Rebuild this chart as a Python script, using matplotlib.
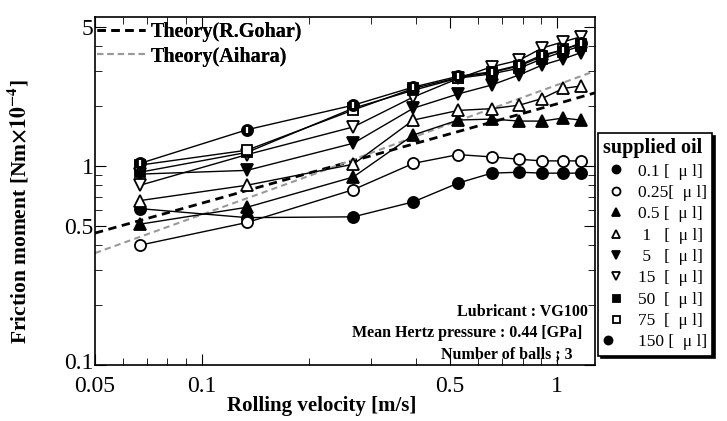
import matplotlib
matplotlib.use('Agg')
import matplotlib.pyplot as plt
import matplotlib.transforms as mtransforms
from matplotlib.lines import Line2D
from matplotlib.legend_handler import HandlerTuple
from matplotlib.ticker import FixedLocator, NullFormatter, LogLocator

plt.rcParams['font.family'] = ['Liberation Serif', 'DejaVu Serif']
plt.rcParams['mathtext.fontset'] = 'stix'

# Rolling velocity of the measured points [m/s]
velocity = [0.067, 0.134, 0.267, 0.394, 0.527, 0.655, 0.784, 0.908, 1.04, 1.166]

# Friction moment [Nm x 10^-4] for each supplied oil amount
oil_0_1 = [0.61, 0.55, 0.555, 0.66, 0.82, 0.92, 0.93, 0.92, 0.92, 0.92]
oil_0_25 = [0.40, 0.52, 0.76, 1.03, 1.14, 1.11, 1.08, 1.06, 1.06, 1.06]
oil_0_5 = [0.51, 0.62, 0.88, 1.43, 1.70, 1.72, 1.68, 1.68, 1.74, 1.70]
oil_1 = [0.67, 0.80, 1.02, 1.70, 1.90, 1.94, 2.02, 2.18, 2.45, 2.52]
oil_5 = [0.91, 0.95, 1.30, 1.95, 2.30, 2.55, 2.87, 3.21, 3.45, 3.70]
oil_15 = [0.80, 1.14, 1.57, 2.22, 2.75, 3.15, 3.40, 3.91, 4.20, 4.45]
oil_50 = [0.93, 1.17, 1.95, 2.40, 2.76, 2.90, 3.10, 3.45, 3.75, 4.00]
oil_75 = [1.01, 1.20, 1.91, 2.45, 2.78, 2.95, 3.18, 3.55, 3.85, 4.10]
oil_150 = [1.03, 1.52, 2.02, 2.49, 2.82, 2.97, 3.21, 3.61, 3.82, 4.15]

oil_labels = ['0.1 [  \u03bc l]', '0.25[  \u03bc l]', '0.5 [  \u03bc l]', ' 1   [  \u03bc l]',
              ' 5   [  \u03bc l]', '15  [  \u03bc l]', '50  [  \u03bc l]', '75  [  \u03bc l]',
              '150 [  \u03bc l]']

# Theory curves
gohar_v = [0.05, 0.1, 0.2, 0.5, 1.0, 1.28]
gohar_m = [0.46, 0.65, 0.92, 1.45, 2.05, 2.33]
aihara_v = [0.05, 0.1, 0.2, 0.5, 1.0, 1.28]
aihara_m = [0.365, 0.57, 0.89, 1.63, 2.55, 3.0]

series = [oil_0_1, oil_0_25, oil_0_5, oil_1, oil_5, oil_15, oil_50, oil_75, oil_150]
markers = ['o', 'o', '^', '^', 'v', 'v', 's', 's', 'o']
fills = ['k', 'w', 'k', 'w', 'k', 'w', 'k', 'w', 'k']

fig = plt.figure(figsize=(7.27, 4.21), dpi=100)
ax = fig.add_axes([95 / 727, 1 - 365 / 421, 500 / 727, 348 / 421])

proxies = []
for vals, m, fc in zip(series, markers, fills):
    ms = 8 if m != 's' else 7
    ax.plot(velocity, vals, color='k', lw=1, marker=m, ms=ms,
            mfc=fc, mec='k', mew=1.3, zorder=3)
    proxies.append(Line2D([], [], ls='none', marker=m, ms=ms * 0.72,
                          mfc=fc, mec='k', mew=1.3))

# 150 ul marker: filled circle with a white bar
ax.plot(velocity, oil_150, ls='none', marker='|', ms=5, mec='w', mew=1.6, zorder=4)
proxies[-1] = (proxies[-1], Line2D([], [], ls='none', marker='|', ms=4, mec='w', mew=1.4))

g_line, = ax.plot(gohar_v, gohar_m, color='k', lw=2, ls=(0, (3, 2)), zorder=2)
a_line, = ax.plot(aihara_v, aihara_m, color='#999999', lw=1.5, ls=(0, (3, 2)), zorder=2)

ax.set_xscale('log')
ax.set_yscale('log')
ax.set_xlim(0.05, 1.28)
ax.set_ylim(0.1, 5.6)

ax.xaxis.set_major_locator(FixedLocator([0.05, 0.1, 0.5, 1]))
ax.xaxis.set_minor_locator(LogLocator(base=10, subs=range(1, 10)))
ax.xaxis.set_minor_formatter(NullFormatter())
ax.set_xticklabels(['0.05', '0.1', '0.5', '1'])
ax.yaxis.set_major_locator(FixedLocator([0.1, 0.5, 1, 5]))
ax.yaxis.set_minor_locator(LogLocator(base=10, subs=range(1, 10)))
ax.yaxis.set_minor_formatter(NullFormatter())
ax.set_yticklabels(['0.1', '0.5', '1', '5'])

ax.tick_params(which='both', direction='in', top=True, right=True, labelsize=17)
ax.tick_params(which='major', length=8)
ax.tick_params(which='minor', length=5)
ax.tick_params(axis='y', which='major', pad=1)
ax.tick_params(axis='x', which='major', pad=8)
for s in ax.spines.values():
    s.set_linewidth(1.2)

# lift the lowest y label a little so it clears the 0.05 label
low_lab = ax.get_yticklabels()[0]
low_lab.set_transform(low_lab.get_transform() +
                      mtransforms.ScaledTranslation(0, 3 / 72, fig.dpi_scale_trans))

ax.set_xlabel('Rolling velocity [m/s]', fontsize=15, fontweight='bold')
ax.xaxis.set_label_coords((322 - 95) / 500, -0.088)
ax.set_ylabel(r'Friction moment [Nm$\mathbf{\times 10^{-4}}$]', fontsize=15.5, fontweight='bold')
ax.yaxis.set_label_coords(-0.128, (365 - 212) / 348)

theory_leg = ax.legend([g_line, a_line], ['Theory(R.Gohar)', 'Theory(Aihara)'],
                       loc='upper left', bbox_to_anchor=(0, 0.99), frameon=False,
                       handlelength=2.4, handletextpad=0.25, borderaxespad=0.0,
                       borderpad=0.1, labelspacing=0.2,
                       prop={'weight': 'bold', 'size': 14.5})
ax.add_artist(theory_leg)

ax.text(0.985, 0.14, 'Lubricant : VG100', transform=ax.transAxes, ha='right',
        fontsize=11.5, fontweight='bold')
ax.text(0.975, 0.08, 'Mean Hertz pressure : 0.44 [GPa]', transform=ax.transAxes, ha='right',
        fontsize=11.5, fontweight='bold')
ax.text(0.955, 0.02, 'Number of balls ; 3', transform=ax.transAxes, ha='right',
        fontsize=11.5, fontweight='bold')

oil_leg = fig.legend(proxies, oil_labels, loc='upper left',
                     bbox_to_anchor=(598 / 727, 1 - 133 / 421), borderaxespad=0,
                     title='supplied oil', alignment='left',
                     title_fontproperties={'weight': 'bold', 'size': 14.5},
                     prop={'size': 12.5}, handlelength=1.5,
                     handletextpad=0.5, labelspacing=0.3, borderpad=0.3,
                     fancybox=False, edgecolor='k', framealpha=1,
                     shadow={'color': 'k', 'alpha': 1},
                     handler_map={tuple: HandlerTuple(ndivide=None)})
oil_leg.get_frame().set_linewidth(1.2)

fig.savefig('out.png', dpi=100)
